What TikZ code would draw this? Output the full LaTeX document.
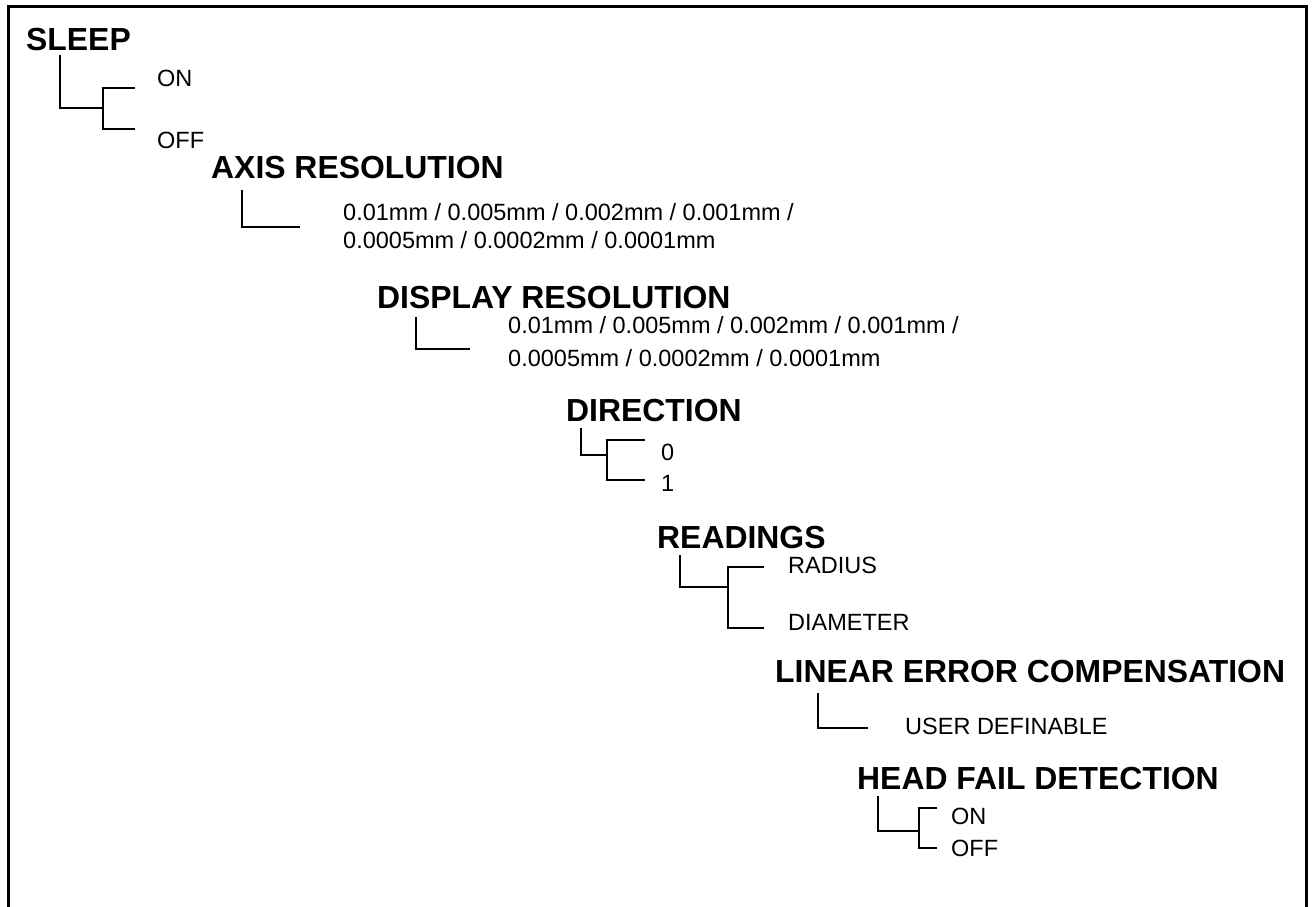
\documentclass[tikz,border=0pt]{standalone}
\usepackage{fontspec}
\setmainfont{Liberation Sans}
\begin{document}
\begin{tikzpicture}[x=1pt,y=-1pt,
  head/.style={anchor=base west,inner sep=0pt,font=\fontsize{31.9}{36}\selectfont\bfseries},
  opt/.style={anchor=base west,inner sep=0pt,font=\fontsize{23.5}{28}\selectfont},
  br/.style={line width=2.5pt},
  frame/.style={line width=3pt}]
\useasboundingbox (0,0) rectangle (1314,907);
% frame
\coordinate (f1) at (8,907);
\coordinate (f2) at (8,6.5);
\coordinate (f3) at (1306,6.5);
\coordinate (f4) at (1306,907);
\draw[frame] (f1) -- (f2) -- (f3) -- (f4);

% SLEEP
\node[head] (sleep) at (26,51) {SLEEP};
\node[opt] (son) at (157,86) {ON};
\node[opt] (soff) at (157,148) {OFF};
\coordinate (sa) at (60,55);
\coordinate (sb) at (103,108);
\coordinate (sc) at (135,88);
\coordinate (sd) at (103,129);
\coordinate (se) at (135,129);
\draw[br] (sa) |- (sb);
\draw[br] (sc) -| (sd) -- (se);

% AXIS RESOLUTION
\node[head] (axis) at (211,178) {AXIS RESOLUTION};
\node[opt] (ax1) at (343,220) {0.01mm / 0.005mm / 0.002mm / 0.001mm /};
\node[opt] (ax2) at (343,248) {0.0005mm / 0.0002mm / 0.0001mm};
\coordinate (aa) at (242,190);
\coordinate (ab) at (300,227);
\draw[br] (aa) |- (ab);

% DISPLAY RESOLUTION
\node[head] (disp) at (377,308) {DISPLAY RESOLUTION};
\node[opt] (dp1) at (508,333) {0.01mm / 0.005mm / 0.002mm / 0.001mm /};
\node[opt] (dp2) at (508,366) {0.0005mm / 0.0002mm / 0.0001mm};
\coordinate (da) at (416,317);
\coordinate (db) at (470,349);
\draw[br] (da) |- (db);

% DIRECTION
\node[head] (dir) at (566,421) {DIRECTION};
\node[opt] (d0) at (661,460) {0};
\node[opt] (d1) at (661,491) {1};
\coordinate (ra) at (581,428);
\coordinate (rb) at (607,455);
\coordinate (rc) at (645,440);
\coordinate (rd) at (607,480);
\coordinate (re) at (645,480);
\draw[br] (ra) |- (rb);
\draw[br] (rc) -| (rd) -- (re);

% READINGS
\node[head] (read) at (657,548) {READINGS};
\node[opt] (rad) at (788,573) {RADIUS};
\node[opt] (dia) at (788,630) {DIAMETER};
\coordinate (ga) at (680,555);
\coordinate (gb) at (728,587);
\coordinate (gc) at (764,567);
\coordinate (gd) at (728,628);
\coordinate (ge) at (764,628);
\draw[br] (ga) |- (gb);
\draw[br] (gc) -| (gd) -- (ge);

% LINEAR ERROR COMPENSATION
\node[head] (lec) at (775,682) {LINEAR ERROR COMPENSATION};
\node[opt] (user) at (905,734) {USER DEFINABLE};
\coordinate (la) at (818,693);
\coordinate (lb) at (868,728);
\draw[br] (la) |- (lb);

% HEAD FAIL DETECTION
\node[head] (hfd) at (857,789) {HEAD FAIL DETECTION};
\node[opt] (hon) at (951,824) {ON};
\node[opt] (hoff) at (951,856) {OFF};
\coordinate (ha) at (878,796);
\coordinate (hb) at (919,831);
\coordinate (hc) at (937,808);
\coordinate (hd) at (919,848);
\coordinate (he) at (937,848);
\draw[br] (ha) |- (hb);
\draw[br] (hc) -| (hd) -- (he);
\end{tikzpicture}
\end{document}
